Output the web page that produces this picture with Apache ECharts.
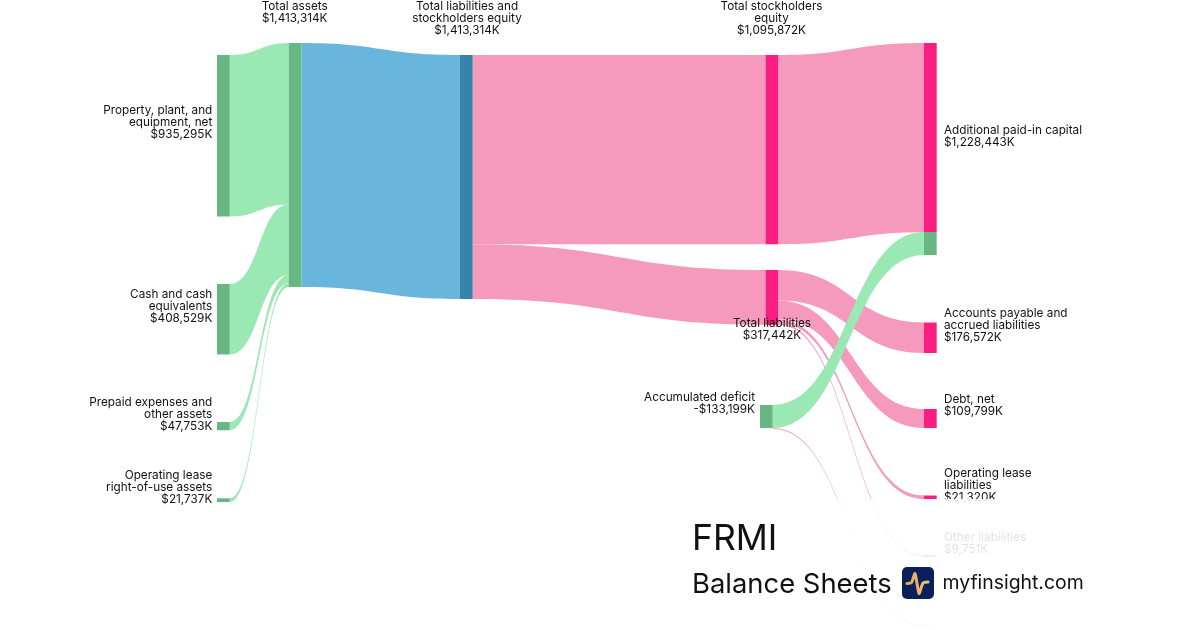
<!DOCTYPE html>
<html>
<head>
<meta charset="utf-8">
<style>html,body{margin:0;padding:0;background:#fff}#c{width:1200px;height:630px}</style>
<script src="https://cdn.jsdelivr.net/npm/echarts@6/dist/echarts.min.js"></script>
</head>
<body>
<div id="c"></div>
<script>
// ---- data (values in $ thousands) ----
const assetNames = ['Property, plant, and equipment, net','Cash and cash equivalents','Prepaid expenses and other assets','Operating lease right-of-use assets'];
const assetValues = [935295, 408529, 47753, 21737];
const totalAssets = 1413314;
const totalEquity = 1095872;
const totalLiabilities = 317442;
const liabilityNames = ['Accounts payable and accrued liabilities','Debt, net','Operating lease liabilities','Other liabilities'];
const liabilityValues = [176572, 109799, 21320, 9751];
const accumulatedDeficit = 133199;
const otherEquity = 628;

// ---- label text ----
const labelText = {
  ppe: 'Property, plant, and\nequipment, net\n$935,295K',
  cash: 'Cash and cash\nequivalents\n$408,529K',
  prepaid: 'Prepaid expenses and\nother assets\n$47,753K',
  rou: 'Operating lease\nright-of-use assets\n$21,737K',
  ta: 'Total assets\n$1,413,314K',
  tlse: 'Total liabilities and\nstockholders equity\n$1,413,314K',
  tse: 'Total stockholders\nequity\n$1,095,872K',
  tl: 'Total liabilities\n$317,442K',
  deficit: 'Accumulated deficit\n-$133,199K',
  apic: 'Additional paid-in capital\n$1,228,443K',
  ap: 'Accounts payable and\naccrued liabilities\n$176,572K',
  debt: 'Debt, net\n$109,799K',
  ol: 'Operating lease\nliabilities\n$21,320K',
  other: 'Other liabilities\n$9,751K'
};

// ---- layout and style ----
const W = 1200, PXK = 244 / 1413314, NODE_W = 12.7, FS = 11.75;
const GREEN_N = '#69b685', GREEN_L = '#9ae8b4', BLUE_N = '#3784ab', BLUE_L = '#69b6dd', PINK_N = '#f91e80', PINK_L = '#f59abd';
const col4 = totalEquity + accumulatedDeficit + liabilityValues.reduce((a,b)=>a+b,0) + otherEquity;
const H = col4 * PXK;

// node: [id, depth, left px, top px, colour, label anchor]
function L(key, x, lineTop, top, align){ return {key, x, y: lineTop - top, align}; }
const nodeDefs = [
  [assetNames[0], 0, 217, 55, GREEN_N, L('ppe', -4.7, 104, 55, 'right')],
  [assetNames[1], 0, 217, 284, GREEN_N, L('cash', -4.7, 288, 284, 'right')],
  [assetNames[2], 0, 217, 422, GREEN_N, L('prepaid', -4.7, 396, 422, 'right')],
  [assetNames[3], 0, 217, 498.3, GREEN_N, L('rou', -4.7, 469, 498.3, 'right')],
  ['Total assets', 1, 288.7, 43, GREEN_N, L('ta', 6, 0, 43, 'center')],
  ['Total liabilities and stockholders equity', 2, 460, 55, BLUE_N, L('tlse', 7, 0, 55, 'center')],
  ['Total stockholders equity', 3, 765.5, 55, PINK_N, L('tse', 6, 0, 55, 'center')],
  ['Total liabilities', 3, 765.5, 270, PINK_N, L('tl', 6.5, 317, 270, 'center')],
  ['Accumulated deficit', 3, 760, 405, GREEN_N, L('deficit', -5, 391.5, 405, 'right')],
  ['Additional paid-in capital', 4, 924, 43, PINK_N, L('apic', 20, 124, 43, 'left')],
  ['Additional paid-in capital offset', 4, 924, 232, GREEN_N, null],
  [liabilityNames[0], 4, 924, 322.5, PINK_N, L('ap', 20, 307, 322.5, 'left')],
  [liabilityNames[1], 4, 924, 409, PINK_N, L('debt', 20, 393, 409, 'left')],
  [liabilityNames[2], 4, 924, 495.5, PINK_N, L('ol', 20, 467, 495.5, 'left')],
  [liabilityNames[3], 4, 924, 555, PINK_N, L('other', 20, 531, 555, 'left')],
  ['Other equity', 4, 924, 625, PINK_N, null]
];

const nodes = nodeDefs.map(d => ({
  name: d[0], depth: d[1], localX: d[2] / W, localY: d[3] / H,
  itemStyle: { color: d[4], opacity: 1, borderWidth: 0 },
  label: d[5] ? {
    show: true, formatter: labelText[d[5].key], position: [d[5].x, d[5].y],
    align: d[5].align, verticalAlign: 'top', lineHeight: 12, fontSize: FS,
    fontFamily: 'Inter', color: '#111'
  } : { show: false }
}));

function link(source, target, value, color){
  return { source, target, value, lineStyle: { color, opacity: 1, curveness: 0.5 } };
}
const links = [
  ...assetNames.map((n, i) => link(n, 'Total assets', assetValues[i], GREEN_L)),
  link('Total assets', 'Total liabilities and stockholders equity', totalAssets, BLUE_L),
  link('Total liabilities and stockholders equity', 'Total stockholders equity', totalEquity, PINK_L),
  link('Total liabilities and stockholders equity', 'Total liabilities', totalLiabilities, PINK_L),
  link('Total stockholders equity', 'Additional paid-in capital', totalEquity, PINK_L),
  ...liabilityNames.map((n, i) => link('Total liabilities', n, liabilityValues[i], PINK_L)),
  link('Accumulated deficit', 'Other equity', otherEquity, PINK_L),
  link('Accumulated deficit', 'Additional paid-in capital offset', accumulatedDeficit, GREEN_L)
];

const chart = echarts.init(document.getElementById('c'), null, { renderer: 'canvas' });
chart.setOption({
  animation: false,
  backgroundColor: '#fff',
  series: [{
    type: 'sankey', left: 0, top: 0, width: W, height: H,
    nodeWidth: NODE_W, nodeGap: 0, layoutIterations: 0, draggable: false, silent: true,
    emphasis: { disabled: true },
    data: nodes, links: links
  }],
  graphic: [
    { type: 'rect', z: 100, silent: true, shape: { x: 680, y: 499, width: 520, height: 131 }, style: { fill: 'rgba(255,255,255,0.88)' } },
    { type: 'text', z: 101, left: 692, top: 521, style: { text: 'FRMI', font: '35.5px Inter', fill: '#111' } },
    { type: 'text', z: 101, left: 692, top: 571, style: { text: 'Balance Sheets', font: '27.4px Inter', fill: '#111' } },
    { type: 'rect', z: 101, shape: { x: 902, y: 567, width: 32, height: 32, r: 5 }, style: { fill: '#0a1f5c' } },
    { type: 'polyline', z: 102, shape: { points: [[907,583.5],[911.5,582.5],[915,573.5],[919,593.5],[923,583],[928,582]], smooth: 0.2 },
      style: { fill: 'none', stroke: new echarts.graphic.LinearGradient(0,0,1,0,[{offset:0,color:'#e0a95a'},{offset:1,color:'#eec27a'}]), lineWidth: 3, lineCap: 'round', lineJoin: 'round' } },
    { type: 'text', z: 101, left: 942.5, top: 574, style: { text: 'myfinsight.com', font: '19.4px Inter', fill: '#111' } }
  ]
});
</script>
</body>
</html>
